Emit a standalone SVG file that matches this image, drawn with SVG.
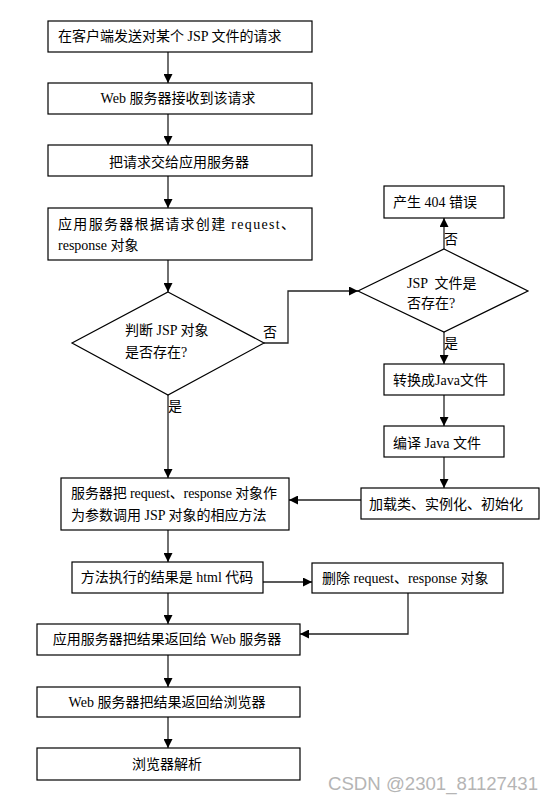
<svg xmlns="http://www.w3.org/2000/svg" width="554" height="803" viewBox="0 0 554 803">
<defs>
<style>
.box{fill:#fff;stroke:#000;stroke-width:1.2}
.t{font-family:"Liberation Serif","Noto Sans CJK SC",serif;font-size:14px;fill:#000}
.c{text-anchor:middle}
.ln{fill:none;stroke:#222;stroke-width:1.3}
.wm{font-family:"Liberation Sans","Noto Sans",sans-serif;font-size:18px;fill:#b5b5b5}
</style>
<marker id="ah" viewBox="0 0 10 10" refX="10" refY="5" markerWidth="9" markerHeight="9" markerUnits="userSpaceOnUse" orient="auto">
<path d="M0,0 L10,5 L0,10 z" fill="#000"/>
</marker>
</defs>
<rect width="554" height="803" fill="#fff"/>

<g id="connectors">
<line class="ln" x1="168" y1="52" x2="168" y2="83" marker-end="url(#ah)"/>
<line class="ln" x1="168" y1="114" x2="168" y2="145" marker-end="url(#ah)"/>
<line class="ln" x1="168" y1="176" x2="168" y2="208" marker-end="url(#ah)"/>
<line class="ln" x1="168" y1="260" x2="168" y2="292" marker-end="url(#ah)"/>
<line class="ln" x1="168" y1="395" x2="168" y2="478" marker-end="url(#ah)"/>
<polyline class="ln" points="264,343 288,343 288,291 358,291" marker-end="url(#ah)"/>
<line class="ln" x1="444" y1="249" x2="444" y2="218" marker-end="url(#ah)"/>
<line class="ln" x1="444" y1="332" x2="444" y2="364" marker-end="url(#ah)"/>
<line class="ln" x1="444" y1="395" x2="444" y2="426" marker-end="url(#ah)"/>
<line class="ln" x1="444" y1="457" x2="444" y2="488" marker-end="url(#ah)"/>
<line class="ln" x1="361" y1="500" x2="289" y2="500" marker-end="url(#ah)"/>
<line class="ln" x1="168" y1="530" x2="168" y2="562" marker-end="url(#ah)"/>
<line class="ln" x1="263" y1="582" x2="312" y2="582" marker-end="url(#ah)"/>
<polyline class="ln" points="408,593 408,634 300,634" marker-end="url(#ah)"/>
<line class="ln" x1="168" y1="593" x2="168" y2="624" marker-end="url(#ah)"/>
<line class="ln" x1="168" y1="655" x2="168" y2="687" marker-end="url(#ah)"/>
<line class="ln" x1="168" y1="717" x2="168" y2="748" marker-end="url(#ah)"/>
<text class="t" x="263" y="337">否</text>
<text class="t" x="168" y="411">是</text>
<text class="t" x="444" y="244">否</text>
<text class="t" x="444" y="348">是</text>
</g>

<g id="n1">
<rect class="box" x="48" y="21" width="264" height="31"/>
<text class="t" x="58" y="41">在客户端发送对某个 JSP 文件的请求</text>
</g>
<g id="n2">
<rect class="box" x="48" y="83" width="264" height="31"/>
<text class="t c" x="178" y="103">Web 服务器接收到该请求</text>
</g>
<g id="n3">
<rect class="box" x="48" y="145" width="264" height="31"/>
<text class="t c" x="179" y="167">把请求交给应用服务器</text>
</g>
<g id="n4">
<rect class="box" x="48" y="208" width="264" height="52"/>
<text class="t" x="58" y="229" textLength="237" lengthAdjust="spacing">应用服务器根据请求创建 request、</text>
<text class="t" x="58" y="250">response 对象</text>
</g>
<g id="d1">
<polygon class="box" points="168,292 264,343 168,395 72,343"/>
<text class="t" x="125" y="335">判断 JSP 对象</text>
<text class="t" x="125" y="357">是否存在?</text>
</g>
<g id="n404">
<rect class="box" x="384" y="186" width="120" height="32"/>
<text class="t" x="393" y="207">产生 404 错误</text>
</g>
<g id="d2">
<polygon class="box" points="444,249 528,291 444,332 358,291"/>
<text class="t" x="407" y="288" xml:space="preserve">JSP  文件是</text>
<text class="t" x="407" y="308">否存在?</text>
</g>
<g id="n5">
<rect class="box" x="384" y="364" width="120" height="31"/>
<text class="t" x="393" y="385">转换成Java文件</text>
</g>
<g id="n6">
<rect class="box" x="384" y="426" width="120" height="31"/>
<text class="t" x="393" y="448">编译 Java 文件</text>
</g>
<g id="n7">
<rect class="box" x="361" y="488" width="178" height="31"/>
<text class="t" x="369" y="509">加载类、实例化、初始化</text>
</g>
<g id="n8">
<rect class="box" x="61" y="478" width="228" height="52"/>
<text class="t" x="71" y="498" textLength="206" lengthAdjust="spacing">服务器把 request、response 对象作</text>
<text class="t" x="71" y="520">为参数调用 JSP 对象的相应方法</text>
</g>
<g id="n9">
<rect class="box" x="72" y="562" width="191" height="31"/>
<text class="t c" x="167" y="582">方法执行的结果是 html 代码</text>
</g>
<g id="n10">
<rect class="box" x="312" y="563" width="191" height="30"/>
<text class="t" x="322" y="583">删除 request、response 对象</text>
</g>
<g id="n11">
<rect class="box" x="37" y="624" width="263" height="31"/>
<text class="t c" x="167" y="644">应用服务器把结果返回给 Web 服务器</text>
</g>
<g id="n12">
<rect class="box" x="37" y="687" width="263" height="30"/>
<text class="t c" x="167" y="707">Web 服务器把结果返回给浏览器</text>
</g>
<g id="n13">
<rect class="box" x="37" y="748" width="263" height="32"/>
<text class="t c" x="167" y="769">浏览器解析</text>
</g>
<text class="wm" x="328" y="790" textLength="210" lengthAdjust="spacingAndGlyphs">CSDN @2301_81127431</text>
</svg>
